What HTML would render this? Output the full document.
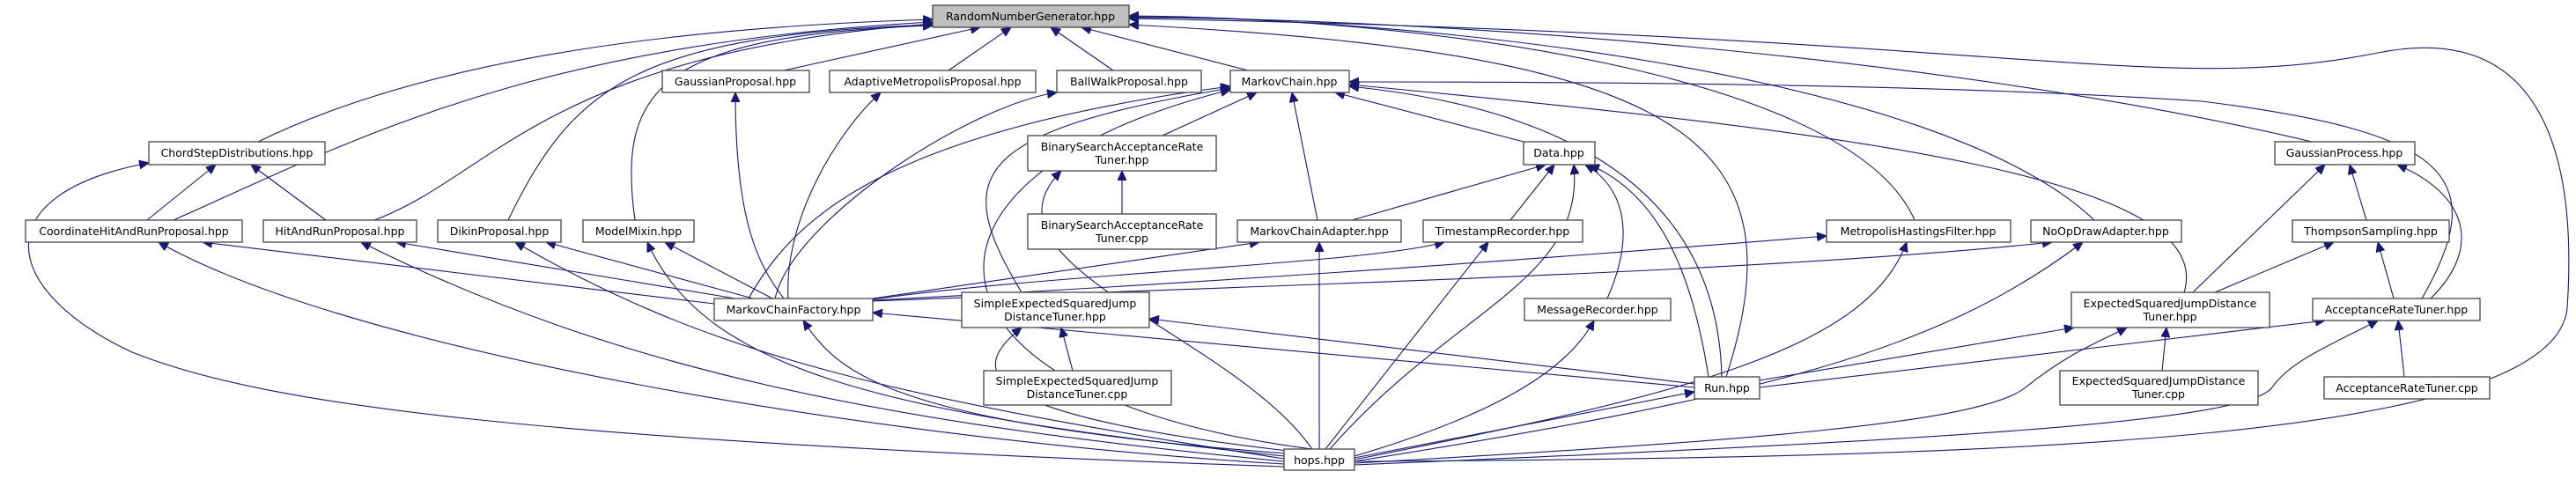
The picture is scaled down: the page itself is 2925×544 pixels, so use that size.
<!DOCTYPE html>
<html><head><meta charset="utf-8"><style>
html,body{margin:0;padding:0;background:#fff;}
svg{display:block;}
text{font-family:"DejaVu Sans","Liberation Sans",sans-serif;font-size:12.5px;fill:#000;text-anchor:middle;}
.n{fill:#fff;stroke:#444;stroke-width:1.3;}
.e{fill:none;stroke:#191970;stroke-width:1.1;}
</style></head><body>
<svg width="2925" height="544" viewBox="0 0 2925 544" xmlns="http://www.w3.org/2000/svg">
<defs><marker id="a" markerUnits="userSpaceOnUse" markerWidth="12" markerHeight="10" refX="11" refY="5" orient="auto"><path d="M0,0 L11,5 L0,10 z" fill="#191970" stroke="#191970"/></marker></defs>
<g class="e" marker-end="url(#a)">
<!-- RNG -->
<path d="M293,161 C500,60 800,30 1059,22"/>
<path d="M197,250 C400,160 600,50 1059,25"/>
<path d="M425,250 C560,200 620,60 1059,27"/>
<path d="M577,250 C650,100 720,40 1059,28"/>
<path d="M721,250 C700,100 750,40 1059,29"/>
<path d="M890,80 L1113,31"/>
<path d="M1077,80 L1148,31"/>
<path d="M1264,80 L1193,31"/>
<path d="M1417,80 L1228,31"/>
<path d="M2174,250 C2100,80 1600,20 1282,18"/>
<path d="M2378,250 C2200,80 1600,20 1282,19"/>
<path d="M2625,161 C2200,60 1600,20 1282,20"/>
<path d="M1960,428 C2050,150 1900,60 1282,28"/>
<path d="M1538,524 C2300,520 2900,500 2915,350 C2925,200 2900,20 2700,60 C2450,110 2300,40 1282,21"/>
<!-- MarkovChain -->
<path d="M1320,154 L1427,105"/>
<path d="M1496,250 L1467,105"/>
<path d="M1730,161 L1516,105"/>
<path d="M850,339 C900,250 1000,150 1397,98"/>
<path d="M1160,332 C1080,200 1100,150 1397,100"/>
<path d="M1490,510 C1020,450 1000,200 1397,102"/>
<path d="M1955,428 C1950,200 1750,120 1532,98"/>
<path d="M2480,332 C2520,200 2100,150 1532,96"/>
<path d="M2750,339 C2830,200 2780,150 2500,115 C2200,95 1800,93 1532,93"/>
<!-- MCF -->
<path d="M880,339 C900,250 1100,120 1200,105"/>
<path d="M895,339 C890,250 950,150 1000,105"/>
<path d="M890,339 C860,300 835,250 835,105"/>
<path d="M811,345 L230,275"/>
<path d="M835,339 L450,275"/>
<path d="M855,339 L620,275"/>
<path d="M877,339 L755,275"/>
<path d="M167,250 L245,187"/>
<path d="M370,250 L285,187"/>
<path d="M1458,530 C600,500 300,460 150,400 C0,330 -20,220 169,185"/>
<path d="M1458,527 C1000,500 400,400 180,275"/>
<path d="M1458,524 C1000,480 700,420 410,275"/>
<path d="M1458,521 C1000,450 800,400 585,275"/>
<path d="M1458,518 C1000,470 800,420 735,275"/>
<path d="M1460,515 C1000,480 950,420 912,364"/>
<path d="M1924,440 L991,355"/>
<path d="M1924,436 L1305,362"/>
<path d="M1218,421 L1205,372"/>
<path d="M1462,512 C1100,470 1100,420 1160,372"/>
<path d="M1274,243 L1274,194"/>
<path d="M1490,510 C1400,380 1100,300 1205,194"/>
<path d="M991,339 L1430,275"/>
<path d="M991,340 C1200,310 1550,300 1640,275"/>
<path d="M991,341 C1400,320 1800,290 2074,268"/>
<path d="M991,342 C1400,325 2000,310 2330,275"/>
<path d="M1498,510 L1498,275"/>
<path d="M1505,510 L1690,275"/>
<path d="M1510,510 C1650,350 1800,320 1787,187"/>
<path d="M1535,250 L1755,187"/>
<path d="M1715,250 L1765,187"/>
<path d="M1825,339 C1860,260 1840,210 1800,187"/>
<path d="M1940,428 C1920,300 1880,220 1805,187"/>
<path d="M1538,518 C1700,470 1780,420 1810,364"/>
<path d="M1538,520 L1924,445"/>
<path d="M1538,522 C1900,450 2120,400 2165,275"/>
<path d="M1538,524 C2000,450 2200,400 2365,275"/>
<path d="M1998,432 L2355,372"/>
<path d="M1538,526 C2000,500 2250,480 2300,440 C2350,400 2380,390 2415,372"/>
<path d="M2455,421 L2460,372"/>
<path d="M1998,440 L2640,364"/>
<path d="M1538,528 C2200,500 2550,480 2580,440 C2600,410 2650,390 2700,364"/>
<path d="M2730,428 L2723,364"/>
<path d="M2490,332 L2640,187"/>
<path d="M2515,332 L2650,275"/>
<path d="M2687,250 L2668,187"/>
<path d="M2718,339 L2700,275"/>
<path d="M2760,339 C2820,280 2800,220 2722,187"/>
</g>
<g>
<rect x="1059" y="6" width="223" height="25" fill="#bfbfbf" stroke="#444" stroke-width="1.3"/><text x="1170" y="23">RandomNumberGenerator.hpp</text>
<rect class="n" x="752" y="80" width="167" height="25"/><text x="835" y="97">GaussianProposal.hpp</text>
<rect class="n" x="942" y="80" width="234" height="25"/><text x="1059" y="97">AdaptiveMetropolisProposal.hpp</text>
<rect class="n" x="1200" y="80" width="164" height="25"/><text x="1282" y="97">BallWalkProposal.hpp</text>
<rect class="n" x="1397" y="80" width="135" height="25"/><text x="1464" y="97">MarkovChain.hpp</text>
<rect class="n" x="169" y="161" width="200" height="26"/><text x="269" y="178">ChordStepDistributions.hpp</text>
<rect class="n" x="1167" y="154" width="214" height="40"/><text x="1274" y="171">BinarySearchAcceptanceRate</text><text x="1274" y="186">Tuner.hpp</text>
<rect class="n" x="1730" y="161" width="81" height="26"/><text x="1770" y="178">Data.hpp</text>
<rect class="n" x="2583" y="161" width="159" height="26"/><text x="2662" y="178">GaussianProcess.hpp</text>
<rect class="n" x="29" y="250" width="246" height="25"/><text x="152" y="267">CoordinateHitAndRunProposal.hpp</text>
<rect class="n" x="299" y="250" width="174" height="25"/><text x="386" y="267">HitAndRunProposal.hpp</text>
<rect class="n" x="497" y="250" width="140" height="25"/><text x="567" y="267">DikinProposal.hpp</text>
<rect class="n" x="662" y="250" width="126" height="25"/><text x="725" y="267">ModelMixin.hpp</text>
<rect class="n" x="1167" y="243" width="214" height="40"/><text x="1274" y="260">BinarySearchAcceptanceRate</text><text x="1274" y="275">Tuner.cpp</text>
<rect class="n" x="1405" y="250" width="186" height="25"/><text x="1498" y="267">MarkovChainAdapter.hpp</text>
<rect class="n" x="1616" y="250" width="181" height="25"/><text x="1706" y="267">TimestampRecorder.hpp</text>
<rect class="n" x="2074" y="250" width="209" height="25"/><text x="2178" y="267">MetropolisHastingsFilter.hpp</text>
<rect class="n" x="2306" y="250" width="171" height="25"/><text x="2391" y="267">NoOpDrawAdapter.hpp</text>
<rect class="n" x="2603" y="250" width="178" height="25"/><text x="2692" y="267">ThompsonSampling.hpp</text>
<rect class="n" x="811" y="339" width="180" height="25"/><text x="901" y="356">MarkovChainFactory.hpp</text>
<rect class="n" x="1092" y="332" width="213" height="40"/><text x="1198" y="349">SimpleExpectedSquaredJump</text><text x="1198" y="364">DistanceTuner.hpp</text>
<rect class="n" x="1731" y="339" width="166" height="25"/><text x="1814" y="356">MessageRecorder.hpp</text>
<rect class="n" x="2352" y="332" width="225" height="40"/><text x="2464" y="349">ExpectedSquaredJumpDistance</text><text x="2464" y="364">Tuner.hpp</text>
<rect class="n" x="2626" y="339" width="190" height="25"/><text x="2721" y="356">AcceptanceRateTuner.hpp</text>
<rect class="n" x="1117" y="421" width="213" height="39"/><text x="1223" y="437">SimpleExpectedSquaredJump</text><text x="1223" y="452">DistanceTuner.cpp</text>
<rect class="n" x="1924" y="428" width="74" height="25"/><text x="1961" y="445">Run.hpp</text>
<rect class="n" x="2339" y="421" width="225" height="39"/><text x="2451" y="437">ExpectedSquaredJumpDistance</text><text x="2451" y="452">Tuner.cpp</text>
<rect class="n" x="2639" y="428" width="188" height="25"/><text x="2733" y="445">AcceptanceRateTuner.cpp</text>
<rect class="n" x="1458" y="510" width="80" height="24"/><text x="1498" y="527">hops.hpp</text>
</g>
</svg>
</body></html>
